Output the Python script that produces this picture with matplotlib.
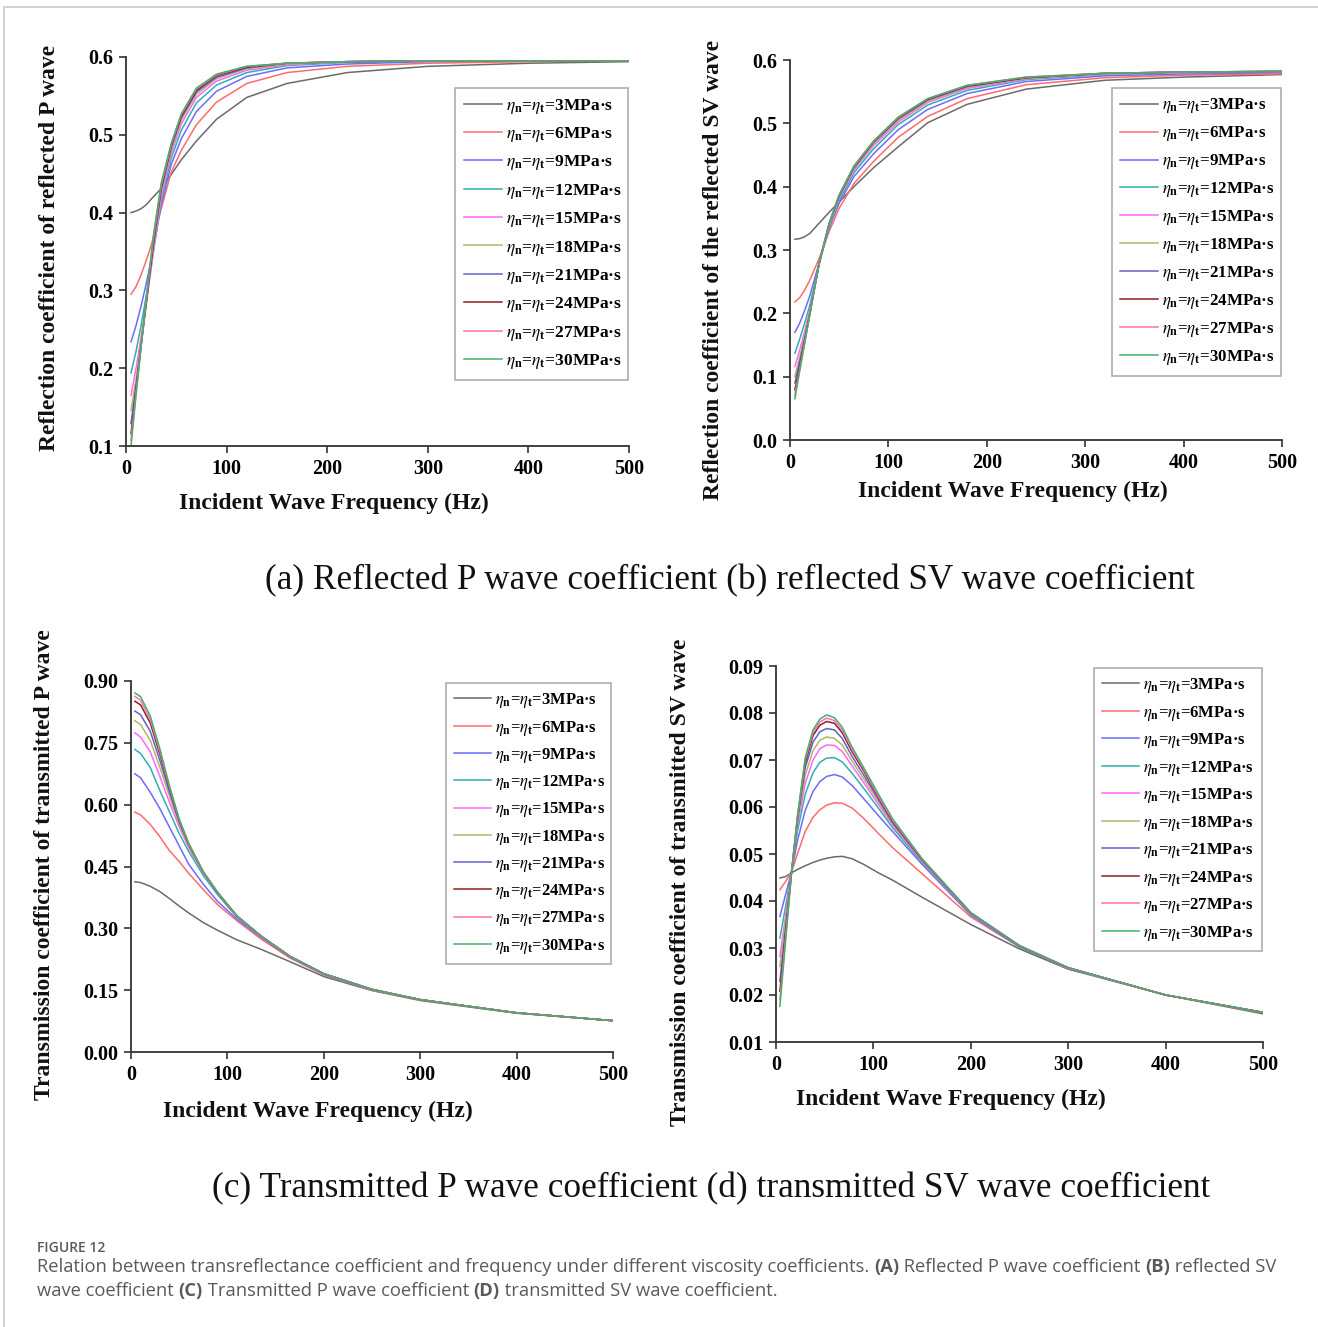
import matplotlib
matplotlib.use("Agg")
import matplotlib.pyplot as plt
from matplotlib.patches import Rectangle

plt.rcParams["mathtext.fontset"] = "stix"
plt.rcParams["font.family"] = ["Liberation Serif", "DejaVu Serif"]

W, H = 1318, 1327

# viscosity coefficients (MPa·s) and their line colours
viscosity = [3, 6, 9, 12, 15, 18, 21, 24, 27, 30]
line_colors = ["#6a6a6a", "#ff6b6b", "#6b6bff", "#2fb0b0", "#ff66ff",
               "#b5b56a", "#6060c8", "#8e1f1f", "#ff6eb4", "#45b06a"]

x_ticks = [0, 100, 200, 300, 400, 500]

# (a) reflected P wave coefficient
freq_a = [5, 10, 15, 20, 27, 35, 45, 55, 70, 90, 120, 160, 220, 300, 400, 500]
refl_p = [
    [0.400, 0.402, 0.405, 0.410, 0.420, 0.431, 0.449, 0.468, 0.492, 0.520, 0.548, 0.566, 0.580, 0.588, 0.592, 0.594],
    [0.295, 0.305, 0.320, 0.338, 0.366, 0.405, 0.452, 0.480, 0.513, 0.542, 0.566, 0.580, 0.588, 0.592, 0.594, 0.595],
    [0.234, 0.255, 0.280, 0.308, 0.352, 0.410, 0.462, 0.495, 0.530, 0.556, 0.575, 0.586, 0.591, 0.594, 0.595, 0.595],
    [0.194, 0.222, 0.255, 0.292, 0.348, 0.415, 0.470, 0.506, 0.541, 0.564, 0.580, 0.589, 0.593, 0.595, 0.595, 0.595],
    [0.165, 0.200, 0.240, 0.283, 0.347, 0.420, 0.476, 0.514, 0.548, 0.569, 0.583, 0.590, 0.594, 0.595, 0.595, 0.595],
    [0.146, 0.186, 0.232, 0.280, 0.350, 0.425, 0.480, 0.519, 0.552, 0.572, 0.585, 0.591, 0.594, 0.595, 0.595, 0.595],
    [0.129, 0.178, 0.230, 0.282, 0.355, 0.429, 0.484, 0.522, 0.555, 0.574, 0.586, 0.592, 0.594, 0.595, 0.595, 0.595],
    [0.116, 0.173, 0.229, 0.284, 0.360, 0.432, 0.486, 0.524, 0.557, 0.576, 0.587, 0.592, 0.594, 0.595, 0.595, 0.595],
    [0.107, 0.169, 0.228, 0.286, 0.364, 0.435, 0.488, 0.526, 0.559, 0.577, 0.588, 0.592, 0.594, 0.595, 0.595, 0.595],
    [0.100, 0.165, 0.228, 0.288, 0.369, 0.438, 0.489, 0.527, 0.560, 0.578, 0.588, 0.592, 0.594, 0.595, 0.595, 0.595],
]

# (b) reflected SV wave coefficient
freq_b = [5, 10, 15, 20, 30, 40, 50, 65, 85, 110, 140, 180, 240, 320, 400, 500]
refl_sv = [
    [0.317, 0.318, 0.321, 0.326, 0.343, 0.360, 0.376, 0.400, 0.430, 0.463, 0.501, 0.530, 0.554, 0.568, 0.573, 0.577],
    [0.218, 0.225, 0.237, 0.252, 0.288, 0.330, 0.366, 0.405, 0.440, 0.478, 0.511, 0.539, 0.561, 0.572, 0.576, 0.578],
    [0.170, 0.185, 0.205, 0.227, 0.282, 0.336, 0.374, 0.416, 0.452, 0.490, 0.522, 0.547, 0.566, 0.575, 0.578, 0.580],
    [0.137, 0.160, 0.185, 0.212, 0.280, 0.338, 0.378, 0.422, 0.460, 0.498, 0.529, 0.552, 0.569, 0.577, 0.580, 0.581],
    [0.116, 0.143, 0.172, 0.204, 0.280, 0.340, 0.381, 0.426, 0.465, 0.502, 0.533, 0.555, 0.570, 0.578, 0.580, 0.581],
    [0.100, 0.132, 0.165, 0.201, 0.281, 0.341, 0.383, 0.428, 0.468, 0.505, 0.535, 0.557, 0.571, 0.578, 0.581, 0.582],
    [0.090, 0.125, 0.161, 0.199, 0.282, 0.342, 0.385, 0.430, 0.470, 0.507, 0.537, 0.558, 0.572, 0.579, 0.581, 0.582],
    [0.079, 0.118, 0.157, 0.198, 0.282, 0.343, 0.386, 0.431, 0.471, 0.508, 0.538, 0.559, 0.572, 0.579, 0.581, 0.582],
    [0.071, 0.113, 0.155, 0.197, 0.283, 0.343, 0.387, 0.432, 0.472, 0.509, 0.539, 0.560, 0.573, 0.579, 0.581, 0.582],
    [0.065, 0.110, 0.153, 0.197, 0.283, 0.343, 0.387, 0.433, 0.472, 0.510, 0.539, 0.560, 0.573, 0.579, 0.581, 0.582],
]

# (c) transmitted P wave coefficient
freq_c = [4, 10, 20, 30, 40, 50, 60, 75, 90, 110, 135, 165, 200, 250, 300, 400, 500]
trans_p = [
    [0.413, 0.411, 0.402, 0.389, 0.372, 0.354, 0.337, 0.314, 0.295, 0.272, 0.249, 0.219, 0.183, 0.149, 0.125, 0.094, 0.076],
    [0.582, 0.575, 0.552, 0.522, 0.488, 0.462, 0.433, 0.394, 0.357, 0.318, 0.274, 0.228, 0.187, 0.150, 0.126, 0.095, 0.076],
    [0.675, 0.665, 0.630, 0.590, 0.545, 0.500, 0.455, 0.407, 0.365, 0.322, 0.278, 0.230, 0.188, 0.151, 0.127, 0.095, 0.076],
    [0.734, 0.724, 0.690, 0.634, 0.582, 0.530, 0.486, 0.428, 0.381, 0.327, 0.280, 0.231, 0.189, 0.151, 0.127, 0.095, 0.076],
    [0.774, 0.764, 0.728, 0.668, 0.605, 0.546, 0.495, 0.433, 0.384, 0.328, 0.280, 0.231, 0.189, 0.151, 0.127, 0.095, 0.076],
    [0.804, 0.794, 0.756, 0.690, 0.620, 0.553, 0.499, 0.435, 0.385, 0.329, 0.281, 0.232, 0.189, 0.152, 0.127, 0.095, 0.076],
    [0.827, 0.818, 0.778, 0.707, 0.630, 0.558, 0.502, 0.436, 0.386, 0.329, 0.281, 0.232, 0.190, 0.152, 0.127, 0.095, 0.076],
    [0.851, 0.842, 0.798, 0.722, 0.639, 0.562, 0.504, 0.437, 0.386, 0.330, 0.281, 0.232, 0.190, 0.152, 0.127, 0.095, 0.076],
    [0.863, 0.853, 0.807, 0.729, 0.642, 0.564, 0.505, 0.437, 0.387, 0.330, 0.281, 0.232, 0.190, 0.152, 0.127, 0.095, 0.076],
    [0.871, 0.862, 0.815, 0.735, 0.645, 0.565, 0.505, 0.437, 0.387, 0.330, 0.281, 0.232, 0.190, 0.152, 0.127, 0.095, 0.076],
]

# (d) transmitted SV wave coefficient
freq_d = [4, 10, 16, 22, 30, 38, 45, 52, 60, 68, 78, 90, 105, 120, 150, 200, 250, 300, 400, 500]
trans_sv = [
    [0.0449, 0.0452, 0.0460, 0.0467, 0.0475, 0.0482, 0.0487, 0.0491, 0.0494, 0.0495, 0.0490, 0.0478, 0.0460, 0.0444, 0.0408, 0.0350, 0.0298, 0.0255, 0.0200, 0.0160],
    [0.0424, 0.0442, 0.0462, 0.0500, 0.0548, 0.0578, 0.0594, 0.0604, 0.0609, 0.0608, 0.0598, 0.0576, 0.0544, 0.0513, 0.0458, 0.0366, 0.0302, 0.0257, 0.0200, 0.0162],
    [0.0367, 0.0415, 0.0462, 0.0528, 0.0593, 0.0633, 0.0654, 0.0665, 0.0669, 0.0664, 0.0646, 0.0618, 0.0582, 0.0547, 0.0478, 0.0370, 0.0302, 0.0257, 0.0200, 0.0163],
    [0.0321, 0.0390, 0.0462, 0.0548, 0.0627, 0.0673, 0.0695, 0.0704, 0.0705, 0.0696, 0.0672, 0.0640, 0.0598, 0.0555, 0.0482, 0.0372, 0.0303, 0.0257, 0.0200, 0.0163],
    [0.0282, 0.0372, 0.0462, 0.0560, 0.0650, 0.0700, 0.0724, 0.0732, 0.0731, 0.0718, 0.0688, 0.0652, 0.0606, 0.0560, 0.0484, 0.0373, 0.0304, 0.0257, 0.0200, 0.0163],
    [0.0261, 0.0362, 0.0462, 0.0566, 0.0668, 0.0720, 0.0742, 0.0749, 0.0746, 0.0732, 0.0698, 0.0660, 0.0612, 0.0563, 0.0486, 0.0374, 0.0304, 0.0258, 0.0200, 0.0163],
    [0.0229, 0.0345, 0.0462, 0.0572, 0.0684, 0.0738, 0.0760, 0.0767, 0.0764, 0.0746, 0.0708, 0.0668, 0.0617, 0.0566, 0.0487, 0.0374, 0.0304, 0.0258, 0.0200, 0.0163],
    [0.0208, 0.0335, 0.0462, 0.0576, 0.0694, 0.0752, 0.0774, 0.0782, 0.0778, 0.0758, 0.0718, 0.0677, 0.0621, 0.0569, 0.0488, 0.0375, 0.0305, 0.0258, 0.0200, 0.0163],
    [0.0190, 0.0326, 0.0462, 0.0578, 0.0700, 0.0758, 0.0781, 0.0789, 0.0784, 0.0764, 0.0723, 0.0681, 0.0623, 0.0571, 0.0489, 0.0375, 0.0305, 0.0258, 0.0200, 0.0163],
    [0.0176, 0.0318, 0.0462, 0.0580, 0.0705, 0.0764, 0.0787, 0.0796, 0.0790, 0.0770, 0.0728, 0.0684, 0.0628, 0.0574, 0.0490, 0.0375, 0.0305, 0.0258, 0.0200, 0.0163],
]


def px_rect(x0, x1, y_top, y_bottom):
    return [x0 / W, 1 - y_bottom / H, (x1 - x0) / W, (y_bottom - y_top) / H]


fig = plt.figure(figsize=(W / 100, H / 100), dpi=100)
fig.patch.set_facecolor("white")
fig.patches.append(Rectangle((4 / W, -0.01), 1.02, 1 - 7 / H + 0.01,
                             transform=fig.transFigure, fill=False,
                             edgecolor="#c9c9c9", linewidth=1.2))

panels = [
    dict(rect=px_rect(126, 629, 57, 446), freq=freq_a, data=refl_p,
         ylim=(0.1, 0.6), yticks=[0.1, 0.2, 0.3, 0.4, 0.5, 0.6], fmt="{:.1f}",
         leg=(455, 88, 628, 383), spacing=0.54, lfs=12.5),
    dict(rect=px_rect(790, 1282, 60, 440), freq=freq_b, data=refl_sv,
         ylim=(0.0, 0.6), yticks=[0.0, 0.1, 0.2, 0.3, 0.4, 0.5, 0.6], fmt="{:.1f}",
         leg=(1112, 88, 1281, 377), spacing=0.53, lfs=12.2),
    dict(rect=px_rect(131, 613, 681, 1052), freq=freq_c, data=trans_p,
         ylim=(0.0, 0.9), yticks=[0.0, 0.15, 0.30, 0.45, 0.60, 0.75, 0.90], fmt="{:.2f}",
         leg=(446, 683, 611, 966), spacing=0.50, lfs=11.9),
    dict(rect=px_rect(776, 1263, 666, 1042), freq=freq_d, data=trans_sv,
         ylim=(0.01, 0.09), yticks=[0.01, 0.02, 0.03, 0.04, 0.05, 0.06, 0.07, 0.08, 0.09],
         fmt="{:.2f}", leg=(1094, 668, 1262, 956), spacing=0.51, lfs=12.0),
]

for p in panels:
    ax = fig.add_axes(p["rect"])
    for eta, col, ys in zip(viscosity, line_colors, p["data"]):
        ax.plot(p["freq"], ys, color=col, lw=1.1,
                label=r"$\eta_\mathregular{n}$=$\eta_\mathregular{t}$=" + f"{eta}MPa·s")
    ax.set_xlim(0, 500)
    ax.set_ylim(*p["ylim"])
    ax.set_xticks(x_ticks)
    ax.set_xticklabels([str(t) for t in x_ticks])
    ax.set_yticks(p["yticks"])
    ax.set_yticklabels([p["fmt"].format(t) for t in p["yticks"]])
    for side in ("top", "right"):
        ax.spines[side].set_visible(False)
    for side in ("left", "bottom"):
        ax.spines[side].set_color("#333333")
        ax.spines[side].set_linewidth(1.3)
    ax.tick_params(direction="out", length=5, width=1.2, color="#333333",
                   labelsize=14.5, pad=4)
    for lab in ax.get_xticklabels() + ax.get_yticklabels():
        lab.set_fontweight("bold")
    lx0, ly0, lx1, ly1 = p["leg"]
    leg = ax.legend(loc="upper left",
                    bbox_to_anchor=(lx0 / W, 1 - ly1 / H, (lx1 - lx0) / W, (ly1 - ly0) / H),
                    bbox_transform=fig.transFigure, mode="expand",
                    fontsize=p["lfs"], frameon=True, fancybox=False, borderaxespad=0,
                    handlelength=2.2, handletextpad=0.25, labelspacing=p["spacing"],
                    borderpad=0.5)
    leg.get_frame().set_edgecolor("#9a9a9a")
    leg.get_frame().set_linewidth(1.2)
    for t in leg.get_texts():
        t.set_fontweight("bold")

label_kw = dict(fontsize=17, fontweight="bold", color="#111111", ha="center", va="center")
fig.text(334 / W, 1 - 503 / H, "Incident Wave Frequency (Hz)", **label_kw)
fig.text(1013 / W, 1 - 491 / H, "Incident Wave Frequency (Hz)", **label_kw)
fig.text(318 / W, 1 - 1111 / H, "Incident Wave Frequency (Hz)", **label_kw)
fig.text(951 / W, 1 - 1099 / H, "Incident Wave Frequency (Hz)", **label_kw)
fig.text(50 / W, 1 - 248 / H, "Reflection coefficient of reflected P wave", rotation=90, **label_kw)
fig.text(714 / W, 1 - 270 / H, "Reflection coefficient of the reflected SV wave", rotation=90, **label_kw)
fig.text(45 / W, 1 - 865 / H, "Transmission coefficient of transmitted P wave", rotation=90, **label_kw)
fig.text(680 / W, 1 - 882 / H, "Transmission coefficient of transmitted SV wave", rotation=90, **label_kw)

sub_kw = dict(fontsize=25.4, color="#111111", ha="center", va="center")
fig.text(730 / W, 1 - 581 / H,
         "(a) Reflected P wave coefficient (b) reflected SV wave coefficient", **sub_kw)
fig.text(711 / W, 1 - 1189 / H,
         "(c) Transmitted P wave coefficient (d) transmitted SV wave coefficient", **sub_kw)

# figure caption, with bold panel letters
cap_color = "#5a5a5a"
fig.text(37 / W, 1 - 1248 / H, "FIGURE 12", family="Open Sans", fontsize=10,
         fontweight="semibold", color=cap_color, va="center", ha="left")

fig.canvas.draw()
renderer = fig.canvas.get_renderer()


def draw_runs(x_px, y_px, runs, size):
    x = x_px / W
    for s, w in runs:
        t = fig.text(x, 1 - y_px / H, s, family="Open Sans", fontsize=size,
                     fontweight=w, color=cap_color, va="center", ha="left")
        bb = t.get_window_extent(renderer)
        x += bb.width / W


cap_size = 13.25
draw_runs(37, 1267, [
    ("Relation between transreflectance coefficient and frequency under different viscosity coefficients. ", "normal"),
    ("(A)", "bold"), (" Reflected P wave coefficient ", "normal"),
    ("(B)", "bold"), (" reflected SV", "normal")], cap_size)
draw_runs(37, 1291, [
    ("wave coefficient ", "normal"), ("(C)", "bold"),
    (" Transmitted P wave coefficient ", "normal"), ("(D)", "bold"),
    (" transmitted SV wave coefficient.", "normal")], cap_size)

fig.savefig("out.png", dpi=100, facecolor="white")
